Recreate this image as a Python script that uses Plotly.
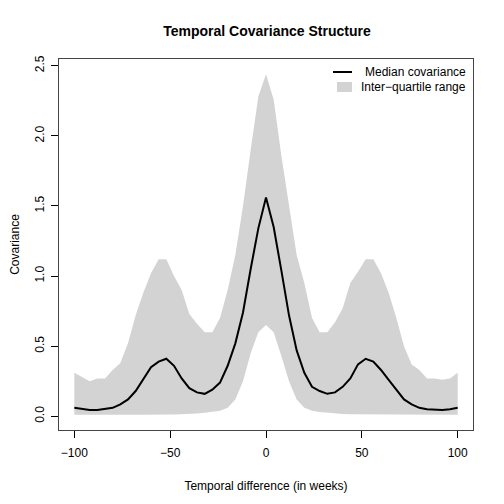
import plotly.graph_objects as go

lag_weeks = list(range(-100, 101, 4))

median_cov = [0.06, 0.05, 0.045, 0.045, 0.05, 0.06, 0.085, 0.12, 0.18, 0.27,
              0.35, 0.39, 0.41, 0.36, 0.27, 0.20, 0.17, 0.16, 0.19, 0.24,
              0.36, 0.52, 0.74, 1.05, 1.34, 1.56, 1.35, 1.04, 0.72, 0.47,
              0.31, 0.21, 0.18, 0.16, 0.17, 0.21, 0.27, 0.37, 0.41, 0.39,
              0.33, 0.26, 0.19, 0.12, 0.085, 0.06, 0.05, 0.045, 0.045, 0.05, 0.06]

upper_q = [0.31, 0.28, 0.25, 0.27, 0.27, 0.33, 0.38, 0.52, 0.72, 0.88,
           1.02, 1.12, 1.12, 1.00, 0.90, 0.73, 0.66, 0.60, 0.60, 0.70,
           0.90, 1.15, 1.50, 1.90, 2.28, 2.44, 2.26, 1.86, 1.50, 1.15,
           0.95, 0.70, 0.60, 0.60, 0.67, 0.77, 0.95, 1.03, 1.12, 1.12,
           1.02, 0.88, 0.70, 0.50, 0.37, 0.33, 0.27, 0.27, 0.26, 0.27, 0.31]

lower_q = [0.01, 0.01, 0.01, 0.01, 0.01, 0.01, 0.01, 0.01, 0.01, 0.01,
           0.01, 0.01, 0.012, 0.012, 0.014, 0.016, 0.02, 0.025, 0.03, 0.04,
           0.06, 0.12, 0.25, 0.45, 0.60, 0.65, 0.60, 0.43, 0.25, 0.12,
           0.06, 0.04, 0.03, 0.025, 0.02, 0.016, 0.014, 0.012, 0.012, 0.01,
           0.01, 0.01, 0.01, 0.01, 0.01, 0.01, 0.01, 0.01, 0.01, 0.01, 0.01]

x_ticks = [-100, -50, 0, 50, 100]
y_ticks = [0.0, 0.5, 1.0, 1.5, 2.0, 2.5]

FONT = "Liberation Sans, Helvetica, Arial, sans-serif"
GREY = "#D3D3D3"

# page has an 8px body margin; figure is sized/positioned to compensate
W = H = 496
L, R, T, B = 51, 31, 51, 74

fig = go.Figure()
fig.add_trace(go.Scatter(
    x=lag_weeks + lag_weeks[::-1],
    y=upper_q + lower_q[::-1],
    fill="toself", fillcolor=GREY, line=dict(width=0, color=GREY),
    mode="lines", showlegend=False, hoverinfo="skip"))
fig.add_trace(go.Scatter(
    x=lag_weeks, y=median_cov, mode="lines",
    line=dict(color="black", width=2), showlegend=False))

fig.update_layout(
    width=W, height=H,
    margin=dict(l=L, r=R, t=T, b=B, autoexpand=False),
    paper_bgcolor="white", plot_bgcolor="white",
    font=dict(family=FONT, size=12, color="black"),
    title=dict(text="<b>Temporal Covariance Structure</b>", x=(267 - 8) / W, xanchor="center",
               y=1 - 23 / H, yanchor="middle", font=dict(size=14, family=FONT)),
    showlegend=False,
)
fig.update_xaxes(
    range=[-108, 108], tickvals=x_ticks, ticktext=["\u2212100", "\u221250", "0", "50", "100"],
    ticks="outside", ticklen=7, tickcolor="black", showgrid=False, zeroline=False,
    showline=True, mirror=True, linecolor="#444", linewidth=1,
    ticklabelstandoff=5, automargin=False,
    title=dict(text="Temporal difference (in weeks)", standoff=22, font=dict(size=12)),
    tickfont=dict(size=12),
)
fig.update_yaxes(
    range=[-0.098, 2.548], tickvals=y_ticks, ticktext=[f"{v:.1f}" for v in y_ticks],
    tickangle=-90,
    ticks="outside", ticklen=7, tickcolor="black", showgrid=False, zeroline=False,
    showline=True, mirror=True, linecolor="#444", linewidth=1,
    ticklabelstandoff=2, automargin=False,
    title=dict(text="Covariance", standoff=15, font=dict(size=12)),
    tickfont=dict(size=12),
)

# legend (R style, no border); positions given in page pixels
pw = W - L - R
ph = H - T - B
def px(xp):
    return (xp - 8 - L) / pw
def py(yp):
    return (H - B - (yp - 8)) / ph

fig.add_shape(type="line", xref="paper", yref="paper",
              x0=px(333), x1=px(352), y0=py(72), y1=py(72),
              line=dict(color="black", width=2))
fig.add_shape(type="rect", xref="paper", yref="paper",
              x0=px(337), x1=px(352), y0=py(92), y1=py(82),
              fillcolor=GREY, line=dict(width=0))
fig.add_annotation(xref="paper", yref="paper", x=px(468), y=py(72),
                   text="Median covariance", showarrow=False,
                   xanchor="right", yanchor="middle", font=dict(size=12))
fig.add_annotation(xref="paper", yref="paper", x=px(468), y=py(87),
                   text="Inter\u2212quartile range", showarrow=False,
                   xanchor="right", yanchor="middle", font=dict(size=12))

fig.write_html("out.html")
